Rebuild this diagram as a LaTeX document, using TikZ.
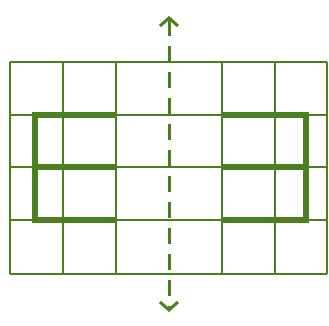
\documentclass[tikz,border=0pt]{standalone}
\usetikzlibrary{arrows.meta}
\definecolor{leaf}{RGB}{74,128,32}
\tikzset{
  >={Straight Barb[length=8pt,width=18pt,line width=3pt]},
  cell/.style={line width=1.8pt,leaf},
  bar/.style={line width=6.5pt,leaf},
  axis/.style={line width=3pt,leaf,dash pattern=on 16pt off 10pt},
}

\begin{document}
\begin{tikzpicture}[x=1pt,y=-1pt]
  \useasboundingbox (0,0) rectangle (329,325);

  % grid: 6 columns, 4 rows (middle column line replaced by the axis)
  \foreach \x in {10,63,116,222,275,327}
    \draw[cell] (\x,62) -- (\x,274);
  \draw[cell] (116,62) -- (222,62);
  \foreach \y in {62,115,167,220,274}
    \draw[cell] (10,\y) -- (327,\y);

  % left letter
  \draw[bar] (117,115) -- (35,115) -- (35,220) -- (117,220);
  \draw[bar] (35,167) -- (117,167);

  % right letter, mirrored
  \draw[bar] (221,115) -- (306,115) -- (306,220) -- (221,220);
  \draw[bar] (306,167) -- (221,167);

  % line of symmetry
  \coordinate (top) at (169,16);
  \coordinate (bot) at (169,312);
  \draw[axis,<->] (top) -- (bot);
\end{tikzpicture}
\end{document}
